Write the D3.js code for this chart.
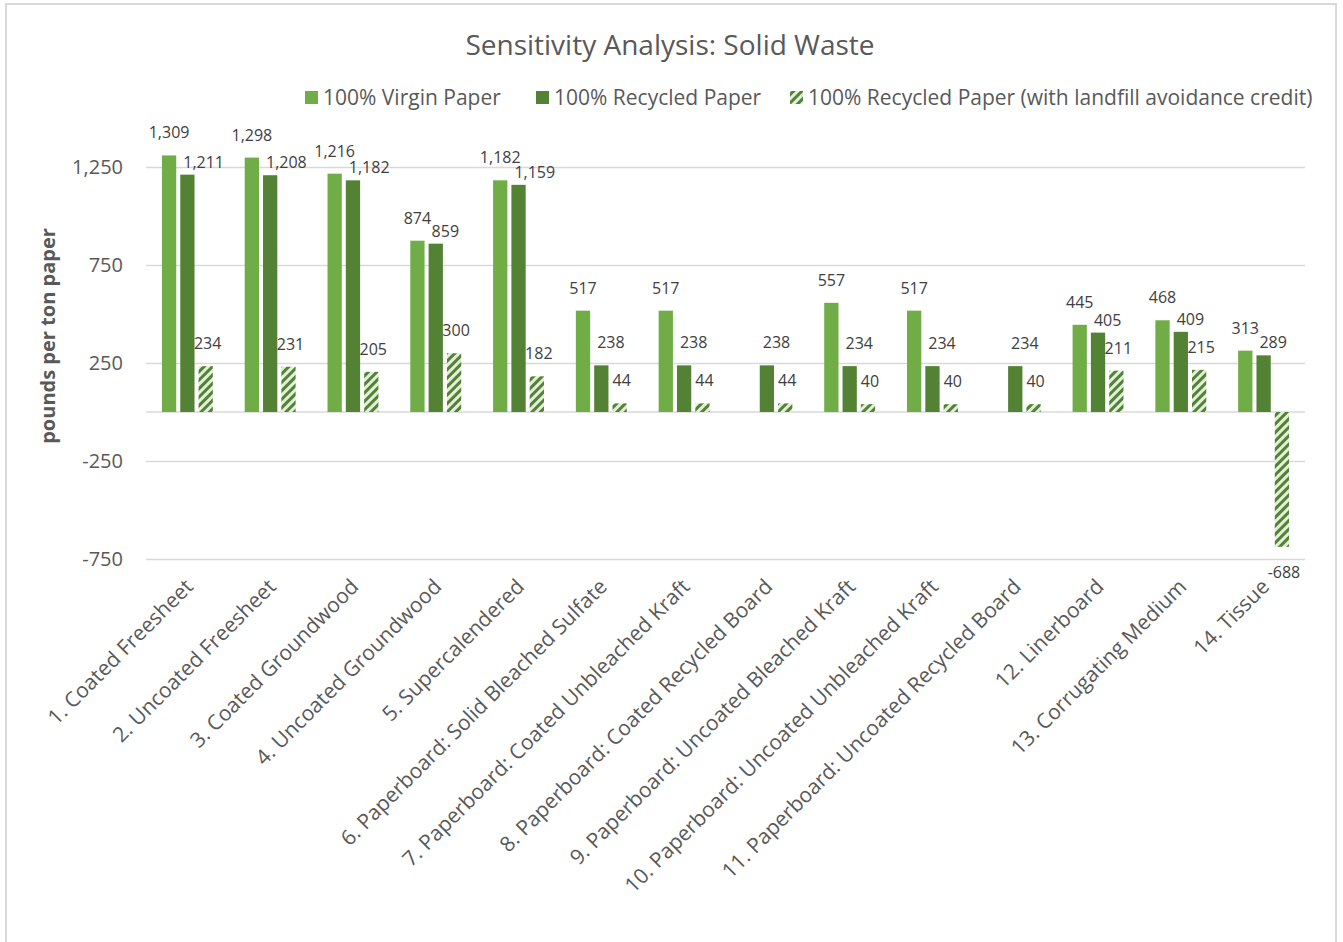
<!DOCTYPE html>
<html>
<head>
<meta charset="utf-8">
<script src="https://cdn.jsdelivr.net/npm/d3@7"></script>
<style>
  body { margin: 0; background: #fff; }
  svg { display: block; font-family: 'Open Sans', sans-serif; }
</style>
</head>
<body>
<svg id="chart" width="1343" height="942"></svg>
<script>
// Chart data
const categories = [
  '1. Coated Freesheet', '2. Uncoated Freesheet', '3. Coated Groundwood',
  '4. Uncoated Groundwood', '5. Supercalendered', '6. Paperboard: Solid Bleached Sulfate',
  '7. Paperboard: Coated Unbleached Kraft', '8. Paperboard: Coated Recycled Board',
  '9. Paperboard: Uncoated Bleached Kraft', '10. Paperboard: Uncoated Unbleached Kraft',
  '11. Paperboard: Uncoated Recycled Board', '12. Linerboard', '13. Corrugating Medium', '14. Tissue',
];
const seriesNames = [
  '100% Virgin Paper',
  '100% Recycled Paper',
  '100% Recycled Paper (with landfill avoidance credit)',
];
const virginValues = [1309, 1298, 1216, 874, 1182, 517, 517, null, 557, 517, null, 445, 468, 313];
const recycledValues = [1211, 1208, 1182, 859, 1159, 238, 238, 238, 234, 234, 234, 405, 409, 289];
const creditValues = [234, 231, 205, 300, 182, 44, 44, 44, 40, 40, 40, 211, 215, -688];
const yTicks = [-750, -250, 250, 750, 1250];

const seriesValues = [virginValues, recycledValues, creditValues];
const LIGHT = '#70ad47';
const DARK = '#548235';
const fills = [LIGHT, DARK, 'url(#hatch)'];

const PLOT = { LEFT: 146, RIGHT: 1305, TOP: 167, BOTTOM: 559 };

// Excel-style numbers: thousands comma, plain hyphen for minus
const fmt = d3.formatLocale({ decimal: '.', thousands: ',', grouping: [3], currency: ['$', ''], minus: '-' }).format(',');

const svg = d3.select('#chart');

// Border of the chart area
svg.append('rect')
  .attr('x', 6).attr('y', 4)
  .attr('width', 1330).attr('height', 960)
  .attr('fill', 'none')
  .attr('stroke', '#d9d9d9')
  .attr('stroke-width', 2);

// Hatch pattern (wide upward diagonal)
const defs = svg.append('defs');
const pattern = defs.append('pattern')
  .attr('id', 'hatch')
  .attr('patternUnits', 'userSpaceOnUse')
  .attr('width', 6).attr('height', 6)
  .attr('patternTransform', 'rotate(45)');
pattern.append('rect').attr('width', 6).attr('height', 6).attr('fill', '#e2efda');
pattern.append('rect').attr('width', 3).attr('height', 6).attr('fill', DARK);

// Scales
const x0 = d3.scaleBand()
  .domain(categories)
  .range([PLOT.LEFT, PLOT.RIGHT]);
const x1 = d3.scaleBand()
  .domain([0, 1, 2])
  .range([0, x0.bandwidth()])
  .paddingInner(0.22)
  .paddingOuter(0.87);
const yScale = d3.scaleLinear()
  .domain([-750, 1250])
  .range([PLOT.BOTTOM, PLOT.TOP]);

// Title
svg.append('text')
  .attr('x', 670).attr('y', 55)
  .attr('text-anchor', 'middle')
  .attr('fill', '#595959')
  .style('font-size', '28px')
  .text('Sensitivity Analysis: Solid Waste');

// Legend
const legendX = [305, 536, 790];
const legend = svg.append('g').attr('class', 'legend');
seriesNames.forEach((name, i) => {
  legend.append('rect')
    .attr('x', legendX[i]).attr('y', 91)
    .attr('width', 13).attr('height', 13)
    .attr('fill', fills[i]);
  legend.append('text')
    .attr('x', legendX[i] + 18).attr('y', 105)
    .attr('fill', '#595959')
    .style('font-size', '21px')
    .text(name);
});

// Gridlines + y-axis tick labels
const yAxis = d3.axisLeft(yScale)
  .tickValues(yTicks)
  .tickSize(-(PLOT.RIGHT - PLOT.LEFT))
  .tickPadding(23)
  .tickFormat(fmt);
const yAxisG = svg.append('g')
  .attr('class', 'y-axis')
  .attr('transform', `translate(${PLOT.LEFT},0)`)
  .call(yAxis);
yAxisG.select('.domain').remove();
yAxisG.selectAll('line').attr('stroke', '#d9d9d9').attr('stroke-width', 1.5);
yAxisG.selectAll('text')
  .attr('fill', '#595959')
  .style('font-size', '20px')
  .style('font-family', "'Open Sans', sans-serif");

// Zero line
svg.append('line')
  .attr('x1', PLOT.LEFT).attr('x2', PLOT.RIGHT)
  .attr('y1', yScale(0)).attr('y2', yScale(0))
  .attr('stroke', '#d9d9d9')
  .attr('stroke-width', 1.5);

// Y-axis title
svg.append('text')
  .attr('transform', 'translate(55,336) rotate(-90)')
  .attr('text-anchor', 'middle')
  .attr('fill', '#595959')
  .style('font-size', '20px')
  .style('font-weight', 'bold')
  .text('pounds per ton paper');

// Bars
const flat = [];
categories.forEach((cat, ci) => {
  seriesValues.forEach((vals, si) => {
    if (vals[ci] !== null) flat.push({ cat, ci, si, value: vals[ci] });
  });
});

const bars = svg.append('g').attr('class', 'bars');
bars.selectAll('rect')
  .data(flat)
  .enter()
  .append('rect')
  .attr('x', d => x0(d.cat) + x1(d.si))
  .attr('width', x1.bandwidth())
  .attr('y', d => yScale(Math.max(0, d.value)))
  .attr('height', d => Math.abs(yScale(d.value) - yScale(0)))
  .attr('fill', d => fills[d.si]);

// Data labels (recycled labels start just right of the bar's left edge)
const labels = bars.selectAll('text')
  .data(flat)
  .enter()
  .append('text')
  .attr('x', d => {
    const left = x0(d.cat) + x1(d.si);
    if (d.si === 1) return left + 3;
    return left + x1.bandwidth() / 2 + (d.si === 2 ? 2 : 0);
  })
  .attr('y', d => (d.value >= 0 ? yScale(d.value) - 17 : yScale(d.value) + 31))
  .attr('text-anchor', d => (d.si === 1 ? 'start' : 'middle'))
  .attr('fill', '#404040')
  .style('font-size', '16px')
  .text(d => fmt(d.value));

// Push a recycled label down next to its bar top when it crowds the virgin label
function crowds(a, b, pad) {
  return a.x - pad < b.x + b.width && b.x - pad < a.x + a.width
    && a.y - pad < b.y + b.height && b.y - pad < a.y + a.height;
}
categories.forEach((cat, ci) => {
  const first = labels.filter(d => d.ci === ci && d.si === 0);
  const second = labels.filter(d => d.ci === ci && d.si === 1);
  if (first.empty() || second.empty()) return;
  if (crowds(first.node().getBBox(), second.node().getBBox(), 4)) {
    second.attr('y', d => yScale(d.value) - 7);
  }
});

// Category labels
svg.append('g')
  .attr('class', 'x-labels')
  .selectAll('text')
  .data(categories)
  .enter()
  .append('text')
  .attr('transform', d => `translate(${x0(d) + x0.bandwidth() / 2 + 7},${PLOT.BOTTOM + 29}) rotate(-45)`)
  .attr('text-anchor', 'end')
  .attr('fill', '#595959')
  .style('font-size', '21px')
  .text(d => d);
</script>
</body>
</html>
